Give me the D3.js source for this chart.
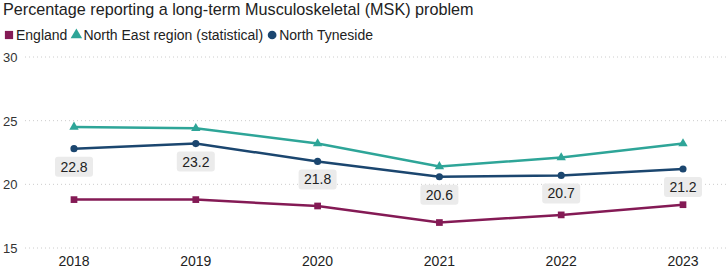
<!DOCTYPE html>
<html>
<head>
<meta charset="utf-8">
<script src="https://cdn.jsdelivr.net/npm/d3@7"></script>
<style>
  body { margin: 0; background: #fff; font-family: "Liberation Sans", Arial, sans-serif; }
</style>
</head>
<body>
<div id="chart"></div>
<script>
const years = ["2018", "2019", "2020", "2021", "2022", "2023"]
const england = [18.8, 18.8, 18.3, 17.0, 17.6, 18.4]
const northEast = [24.5, 24.4, 23.2, 21.4, 22.1, 23.2]
const northTyneside = [22.8, 23.2, 21.8, 20.6, 20.7, 21.2]
const yTicks = [15, 20, 25, 30]

const series = [
  { name: "England", values: england, color: "#841a55", symbol: d3.symbolSquare, size: 45 },
  { name: "North East region (statistical)", values: northEast, color: "#2ea598", symbol: d3.symbolTriangle, size: 38 },
  { name: "North Tyneside", values: northTyneside, color: "#1b466f", symbol: d3.symbolCircle, size: 40, labels: true }
]

const width = 727, height = 272
const svg = d3.select("#chart").append("svg")
  .attr("width", width).attr("height", height)

// title
svg.append("text")
  .attr("x", 3).attr("y", 15)
  .attr("font-size", 16.2).attr("fill", "#222")
  .text("Percentage reporting a long-term Musculoskeletal (MSK) problem")

// legend
let lx = 4
series.forEach(s => {
  svg.append("path")
    .attr("d", d3.symbol(s.symbol, s.size * 1.5)())
    .attr("transform", `translate(${lx + 5},${35})`)
    .attr("fill", s.color)
  const t = svg.append("text")
    .attr("x", lx + 12).attr("y", 40)
    .attr("font-size", 14).attr("fill", "#222")
    .text(s.name)
  lx += 12 + t.node().getComputedTextLength() + 4
})

const x = d3.scalePoint().domain(years).range([74, 683])
const y = d3.scaleLinear().domain([15, 30]).range([248, 57])

// grid
svg.append("g").selectAll("line")
  .data(yTicks).join("line")
  .attr("x1", 25).attr("x2", width)
  .attr("y1", d => y(d)).attr("y2", d => y(d))
  .attr("stroke", "#ccc").attr("stroke-dasharray", "1,3")

svg.append("g").selectAll("text")
  .data(yTicks).join("text")
  .attr("x", 3).attr("y", d => y(d) + 5)
  .attr("font-size", 13).attr("fill", "#333")
  .text(d => d)

// x axis labels
svg.append("g").selectAll("text")
  .data(years).join("text")
  .attr("x", d => x(d)).attr("y", 266)
  .attr("text-anchor", "middle")
  .attr("font-size", 14).attr("fill", "#222")
  .text(d => d)

const line = d3.line()
  .x((d, i) => x(years[i]))
  .y(d => y(d))

series.forEach(s => {
  svg.append("path")
    .datum(s.values)
    .attr("d", line)
    .attr("fill", "none")
    .attr("stroke", s.color)
    .attr("stroke-width", 2.5)

  svg.append("g").selectAll("path")
    .data(s.values).join("path")
    .attr("d", d3.symbol(s.symbol, s.size))
    .attr("transform", (d, i) => `translate(${x(years[i])},${y(d)})`)
    .attr("fill", s.color)

  if (s.labels) {
    const g = svg.append("g").selectAll("g")
      .data(s.values).join("g")
      .attr("transform", (d, i) => `translate(${x(years[i])},${y(d) + 10})`)
    g.append("rect")
      .attr("x", -19).attr("y", -2)
      .attr("width", 38).attr("height", 20)
      .attr("rx", 3)
      .attr("fill", "#ebebeb")
    g.append("text")
      .attr("y", 13)
      .attr("text-anchor", "middle")
      .attr("font-size", 14).attr("fill", "#222")
      .text(d => d.toFixed(1))
  }
})
</script>
</body>
</html>
